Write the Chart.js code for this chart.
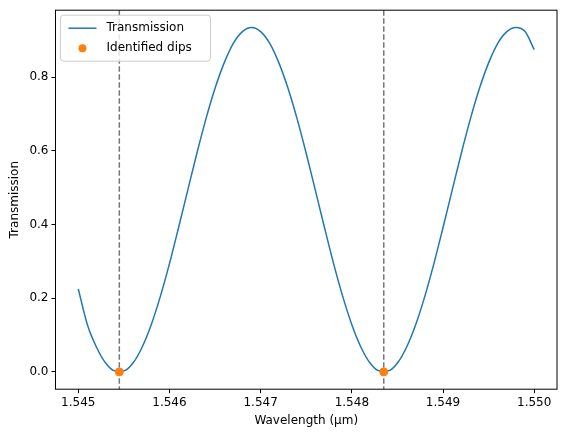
<!DOCTYPE html><html><head><script src="https://cdn.jsdelivr.net/npm/chart.js"></script>
<style>body{margin:0;background:#fff}#w{width:567px;height:432px}</style></head><body><div id="w"><canvas id="c"></canvas></div>
<script>
const wavelengths=[];for(let i=0;i<=50;i++)wavelengths.push(+(1.545+i*0.0001).toFixed(4));
const transmission=[0.225,0.128,0.067,0.024,0.003,0.003,0.024,0.067,0.128,0.205,0.294,0.392,0.493,0.593,0.687,0.770,0.839,0.892,0.924,0.935,0.924,0.892,0.839,0.770,0.687,0.593,0.493,0.392,0.294,0.205,0.128,0.067,0.024,0.003,0.003,0.024,0.067,0.128,0.205,0.294,0.392,0.493,0.593,0.687,0.770,0.839,0.892,0.924,0.935,0.924,0.875];
const dipX=[1.54545,1.54835];const dipY=[0,0];
const font={family:'DejaVu Sans',size:12};
const extras={id:'extras',
 beforeDatasetsDraw(ch){const {ctx,scales:{x},chartArea:a}=ch;ctx.save();ctx.strokeStyle='#777';ctx.lineWidth=1.5;ctx.setLineDash([5.5,2.5]);
  dipX.forEach(v=>{const p=x.getPixelForValue(v);ctx.beginPath();ctx.moveTo(p,a.top);ctx.lineTo(p,a.bottom);ctx.stroke();});ctx.restore();},
 afterDraw(ch){const {ctx,chartArea:a}=ch;ctx.save();
  ctx.strokeStyle='#000';ctx.lineWidth=1;ctx.strokeRect(a.left,a.top,a.right-a.left,a.bottom-a.top);
  const lx=a.left+5,ly=a.top+5;ctx.fillStyle='rgba(255,255,255,0.8)';ctx.strokeStyle='#ccc';
  ctx.beginPath();ctx.roundRect(lx,ly,150,46,3);ctx.fill();ctx.stroke();
  ctx.strokeStyle='#1f77b4';ctx.lineWidth=1.5;ctx.beginPath();ctx.moveTo(lx+8,ly+13);ctx.lineTo(lx+36,ly+13);ctx.stroke();
  ctx.fillStyle='#ff7f0e';ctx.beginPath();ctx.arc(lx+22,ly+33,4,0,Math.PI*2);ctx.fill();
  ctx.fillStyle='#000';ctx.font='12px DejaVu Sans';ctx.textBaseline='middle';
  ctx.fillText('Transmission',lx+46,ly+13);ctx.fillText('Identified dips',lx+46,ly+33);ctx.restore();}};
const grid={display:true,color:'transparent',tickColor:'#000',tickLength:4,drawOnChartArea:false};
new Chart(document.getElementById('c'),{type:'line',
 data:{labels:wavelengths,datasets:[
  {data:wavelengths.map((v,i)=>({x:v,y:transmission[i]})),borderColor:'#1f77b4',borderWidth:1.5,pointRadius:0,cubicInterpolationMode:'monotone',order:2},
  {type:'scatter',data:dipX.map((v,i)=>({x:v,y:dipY[i]})),backgroundColor:'#ff7f0e',borderColor:'#ff7f0e',pointRadius:4,order:1}]},
 options:{responsive:true,maintainAspectRatio:false,animation:false,
  layout:{padding:{left:6,right:10,top:8,bottom:0}},
  plugins:{legend:{display:false},tooltip:{enabled:false}},
  scales:{
   x:{type:'linear',min:1.54475,max:1.55025,grid,border:{display:false},
    ticks:{color:'#000',font,padding:2,callback:v=>v.toFixed(3)},
    afterBuildTicks(s){s.ticks=[1.545,1.546,1.547,1.548,1.549,1.55].map(v=>({value:v}));},
    title:{display:true,text:'Wavelength (μm)',color:'#000',font,padding:{top:2,bottom:4}}},
   y:{min:-0.047,max:0.982,grid,border:{display:false},
    afterBuildTicks(s){s.ticks=[0,0.2,0.4,0.6,0.8].map(v=>({value:v}));},
    ticks:{color:'#000',font,padding:3,callback:v=>v.toFixed(1)},
    title:{display:true,text:'Transmission',color:'#000',font,padding:{top:2,bottom:4}}}}},
 plugins:[extras]});
</script></body></html>
